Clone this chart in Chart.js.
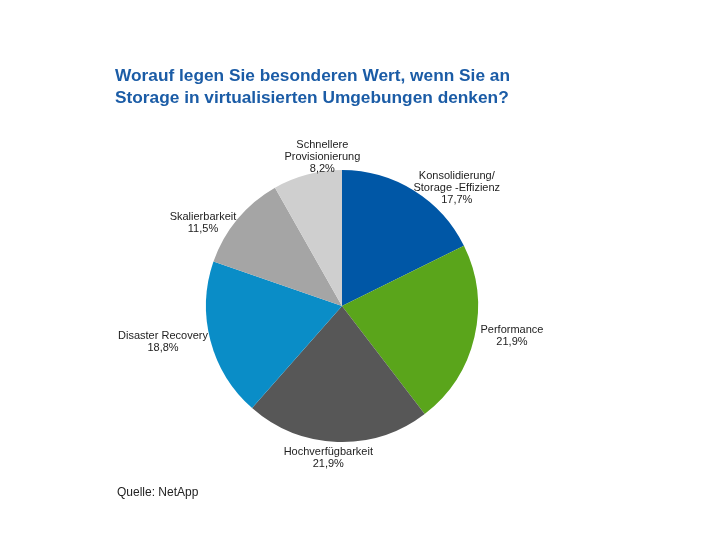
<!DOCTYPE html>
<html>
<head>
<meta charset="utf-8">
<script src="https://cdn.jsdelivr.net/npm/chart.js@4/dist/chart.umd.min.js"></script>
<style>
  html, body { margin: 0; padding: 0; background: #fff; }
  #wrap { position: relative; width: 710px; height: 549px; }
  #titel { position: absolute; left: 115px; top: 64px; margin: 0;
    font: bold 17.3px "Liberation Sans", Arial, sans-serif; color: #1b5ca6; line-height: 22px; }
  #quelle { position: absolute; left: 117px; top: 485px;
    font: 12px "Liberation Sans", Arial, sans-serif; color: #222; }
</style>
</head>
<body>
<div id="wrap">
  <canvas id="chartCanvas" width="710" height="549"></canvas>
  <h1 id="titel">Worauf legen Sie besonderen Wert, wenn Sie an<br>Storage in virtualisierten Umgebungen denken?</h1>
  <div id="quelle">Quelle: NetApp</div>
</div>
<script>
// Daten
const kategorien = [
  ["Konsolidierung/", "Storage -Effizienz"],
  ["Performance"],
  ["Hochverfügbarkeit"],
  ["Disaster Recovery"],
  ["Skalierbarkeit"],
  ["Schnellere", "Provisionierung"]
];
const werte = [17.7, 21.9, 21.9, 18.8, 11.5, 8.2];
const farben = ["#0057a6", "#5aa51b", "#575757", "#0a8dc7", "#a5a5a5", "#cfcfcf"];

// Verschiebung der Beschriftung gegenüber dem äußeren Bogenpunkt
const labelVersatz = [[43, -2.5], [37.5, -1], [-9, 16], [-47.5, 1], [-34.5, 4], [15, -17.5]];

const beschriftung = {
  id: "beschriftung",
  afterDatasetsDraw(chart) {
    const c = chart.ctx;
    const meta = chart.getDatasetMeta(0);
    c.save();
    c.font = '11px "Liberation Sans", Arial, sans-serif';
    c.fillStyle = "#222";
    c.textAlign = "center";
    c.textBaseline = "middle";
    meta.data.forEach((arc, i) => {
      const mitte = (arc.startAngle + arc.endAngle) / 2;
      const px = arc.x + Math.cos(mitte) * arc.outerRadius;
      const py = arc.y + Math.sin(mitte) * arc.outerRadius;
      const zeilen = kategorien[i].concat([werte[i].toFixed(1).replace(".", ",") + "%"]);
      const lh = 12;
      const cx = px + labelVersatz[i][0];
      const cy = py + labelVersatz[i][1] - (zeilen.length - 1) * lh / 2;
      zeilen.forEach((z, k) => c.fillText(z, cx, cy + k * lh));
    });
    c.restore();
  }
};

new Chart(document.getElementById("chartCanvas").getContext("2d"), {
  type: "pie",
  data: {
    labels: kategorien.map(k => k.join(" ")),
    datasets: [{
      data: werte,
      backgroundColor: farben,
      borderWidth: 0
    }]
  },
  options: {
    responsive: false,
    animation: false,
    layout: { padding: { left: 206, right: 232, top: 170, bottom: 107 } },
    plugins: { legend: { display: false }, tooltip: { enabled: false } }
  },
  plugins: [beschriftung]
});
</script>
</body>
</html>
